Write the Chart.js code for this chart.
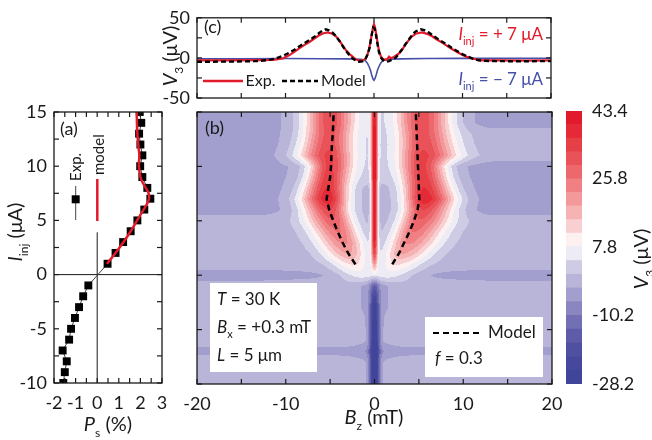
<!DOCTYPE html>
<html><head><meta charset="utf-8">
<script src="https://cdn.jsdelivr.net/npm/chart.js@4.4.0/dist/chart.umd.min.js"></script>
<style>
html,body{margin:0;padding:0;background:#fff;}
#wrap{position:relative;width:652px;height:440px;overflow:hidden;background:#fff;}
#wrap canvas{position:absolute;left:0;top:0;}
</style></head><body>
<div id="wrap">
<canvas id="cb" width="652" height="440" style="width:652px;height:440px"></canvas>
<canvas id="ca" width="652" height="440" style="width:652px;height:440px"></canvas>
<canvas id="cc" width="652" height="440" style="width:652px;height:440px"></canvas>
<canvas id="cd" width="652" height="440" style="width:652px;height:440px"></canvas>
</div>
<script>
// ---------------- data: panel (a) ----------------
const aExpI  = [-10,-9,-8,-7,-6,-5,-4,-3,-2,-1,1,2,3,4,5,6,7,8,9,10,11,12,13,14,15];
const aExpPs = [-1.57,-1.50,-1.41,-1.60,-1.30,-1.21,-1.03,-0.84,-0.65,-0.41,0.48,0.85,1.20,1.55,1.86,2.18,2.46,2.32,2.09,1.99,2.09,2.00,1.94,2.04,1.97];
const aModelI  = [1,2,3,4,5,6,6.5,7,7.5,8,8.5,9,10,11,12,13,14,15];
const aModelPs = [0.45,0.85,1.22,1.55,1.85,2.15,2.30,2.40,2.38,2.25,2.10,2.00,1.93,1.95,1.90,1.86,1.84,1.83];
const aTicksX = [-2,-1,0,1,2,3];
const aTicksY = [-10,-5,0,5,10,15];

// ---------------- data: panel (b) map, one entry per current row ----------------
const mapRowsI     = [-10,-9,-8,-7,-6,-5,-4,-3,-2,-1,0,1,2,3,4,5,6,7,8,9,10,11,12,13,14,15];
const mapSideAmp   = [0,0,0,0,0,0,0,0,0,0, 9,13,20,24,27,30,34,41,38,36,35,35,33,32,33,33];
const mapSidePosL  = [0,0,0,0,0,0,0,0,0,0, 1.6,2.3,2.9,3.4,4.0,4.6,5.1,5.3,5.3,5.2,5.1,5.2,5.2,5.1,5.0,5.0];
const mapSidePosR  = [0,0,0,0,0,0,0,0,0,0, 1.6,2.4,3.1,3.8,4.4,5.0,5.5,5.7,5.6,5.5,5.4,5.5,5.5,5.4,5.3,5.3];
const mapSideWin   = [1,1,1,1,1,1,1,1,1,1, 1.4,1.3,1.4,1.5,1.5,1.5,1.5,1.55,1.6,1.7,1.8,1.9,1.9,1.9,1.9,1.9];
const mapSideWout  = [1,1,1,1,1,1,1,1,1,1, 1.8,1.8,2.0,2.1,2.1,2.1,2.0,2.0,1.8,1.6,1.5,2.3,2.1,2.0,2.0,2.0];
const mapCenterAmp = [-28,-28,-28,-28,-27,-27,-25,-22,-17,-10, 0,16,30,38,42,42,42,42,42,42,42,42,42,41,40,40];
const mapCenterW   = [0.35,0.35,0.35,0.35,0.35,0.35,0.35,0.35,0.35,0.35, 0.25,0.25,0.25,0.25,0.25,0.25,0.25,0.25,0.25,0.25,0.25,0.25,0.25,0.25,0.25,0.25];
const mapHaloAmp   = [-3,-3,-3,-3,-3,-3,-3,-4,-4,-4, 0,0,0,0,0,0,0,0,0,3,3,3,3,3,3,3];
const mapHaloW     = [0.8,0.8,0.8,1.5,0.8,0.8,0.9,1.2,1.2,1.2, 1,1,1,1,1,1,1,1,1,1.5,1.5,1.5,1.5,1.5,1.5,1.5];
const mapBgLeft    = [-1.2,-1.2,-1.2,-4,-1.2,-1.2,-1.2,-1.2,-1.2,-1.2, -4.8, -1.2,-1.2,-1.2,-1.2,-1.2, -4.8,-4.8,-4.8,-4.8,-4.8,-4.8,-4.8,-4.8,-4.8,-4.8];
const mapBgCenter  = [-1.2,-1.2,-1.2,-4,-1.2,-1.2,-1.2,-1.2,-1.2,-1.2, -3.5, -1.2,-1.2,-1.2,-1.2,-1.2,-1.2,-1.2,-1.2,-1.2,-1.2,-1.2,-1.2,-1.2,-1.2,-1.2];
const mapBgRight   = [-1.2,-1.2,-1.2,-4,-1.2,-1.2,-1.2,-1.2,-1.2,-1.2, -4.8, -1.2,-1.2,-1.2,-1.2,-1.2, -4.8,-4.8,-4.8,-4.8,-4.8, -1.2,-1.2,-1.2, -4.8,-4.8];
// dashed model peak positions
const bModelLeft  = [[-2.15,1],[-2.95,2],[-3.6,3],[-4.15,4],[-4.65,5],[-5.1,6],[-5.4,7],[-5.2,8],[-5.0,9],[-4.9,10],[-4.85,11],[-4.8,12],[-4.7,13],[-4.65,14],[-4.6,15]];
const bModelRight = [[2.0,1],[2.75,2],[3.35,3],[3.95,4],[4.45,5],[4.85,6],[5.05,7],[5.0,8],[4.95,9],[4.9,10],[4.85,11],[4.8,12],[4.75,13],[4.7,14],[4.65,15]];
const bTicksX = [-20,-10,0,10,20];

// ---------------- data: panel (c) ----------------
const cExpPlus = [[-20,-3.2],[-16,-3.0],[-13,-2.8],[-11.4,-2.6],[-10.3,-0.8],[-9.6,3.2],[-9.0,7.5],[-8.45,11.9],[-7.9,16],[-7.3,19.8],[-6.7,24.5],[-6.2,28.2],[-5.7,30.8],[-5.26,31.7],[-4.8,30.5],[-4.3,27],[-3.9,21.5],[-3.57,15.9],[-3.2,10],[-2.8,5.2],[-2.4,1.2],[-2.1,-1.6],[-1.8,-3.0],[-1.5,-3.6],[-1.2,-2.8],[-0.94,-0.8],[-0.75,3.5],[-0.56,11],[-0.4,20],[-0.26,29],[-0.12,38],[0,42],[0.12,38],[0.26,29],[0.4,19],[0.56,9.1],[0.75,2.5],[0.94,-0.8],[1.2,-2.2],[1.5,-1.6],[1.7,1.5],[1.9,-0.5],[2.25,1.2],[2.8,5.2],[3.2,10.5],[3.57,17],[3.95,22.5],[4.3,27],[4.8,30.5],[5.44,31.7],[6.0,30],[6.57,27],[7.1,23],[7.7,19],[8.25,15],[8.8,11],[9.4,7.3],[9.95,4],[10.5,1.3],[11.1,-0.8],[12.2,-3],[14,-3.2],[17,-3.3],[20,-3.2]];
const cModelPlus = [[-20,-4.8],[-16,-4.6],[-13.3,-4],[-12,-2.8],[-11.1,-0.8],[-10.3,2.5],[-9.6,6.3],[-9,10.2],[-8.45,14.3],[-7.9,18.2],[-7.3,22.2],[-6.7,26.6],[-6.2,31],[-5.8,34],[-5.45,35.7],[-5.1,34.5],[-4.7,31.7],[-4.3,27],[-3.9,21],[-3.55,15],[-3.2,9.1],[-2.8,3.8],[-2.4,-0.8],[-2.05,-3.4],[-1.7,-4.8],[-1.3,-4.4],[-0.94,-0.8],[-0.7,5],[-0.5,12.5],[-0.38,21],[-0.2,32],[-0.08,38],[0.05,37],[0.19,31],[0.35,20],[0.56,7.1],[0.8,0],[1.13,-4],[1.4,-4.8],[1.7,-4],[2.05,-2],[2.44,0],[2.8,5],[3.2,11],[3.55,17],[3.94,23],[4.3,28.5],[4.7,33],[5.26,35.7],[5.7,34.5],[6.2,31.7],[6.7,27.5],[7.3,23],[7.9,19],[8.45,15],[9.0,11],[9.6,7.1],[10.1,4],[10.7,1.2],[11.2,-1.2],[11.8,-3],[13,-3.9],[16,-4.2],[20,-4]];
const cExpMinus = [[-20,-1.0],[-15,-1.2],[-10,-0.8],[-6,-1.0],[-3,-1.2],[-1.5,-1.6],[-1.1,-2.6],[-0.94,-4],[-0.75,-6.5],[-0.56,-10.7],[-0.4,-15.5],[-0.26,-21.4],[-0.12,-26],[0,-27.8],[0.12,-25.5],[0.26,-20.6],[0.4,-15],[0.56,-10.7],[0.75,-6.5],[0.94,-4],[1.2,-2.5],[1.7,-1.6],[3,-1.2],[6,-0.8],[10,-0.6],[15,-0.6],[20,-0.5]];
const cTicksY = [-50,0,50];

// ---------------- colour bar ----------------
const cbLevels = [-28.2,-24.6,-21.0,-17.4,-13.8,-10.2,-6.6,-3.0,0.6,4.2,7.8,11.36,14.92,18.48,22.04,25.6,29.16,32.72,36.28,39.84,43.4];
const cbTicks = [-28.2,-10.2,7.8,25.8,43.4];
const cbColors = ['#3f4598','#45489c','#5050a0','#5f5ba8','#736fb4','#8a86c0','#a29ecd','#b8b5d8','#cecce4','#edebf4','#fdf0f0','#f9d0d1','#f6b3b4','#f3999b','#f08084','#ec686d','#e95258','#e63f46','#e42a36','#e11b2c'];

// ---------------- style ----------------
const FONT = 'Lato, "Open Sans", sans-serif';
const INK = '#1a1a1a';
const RED = '#e31a2b';
const BLUE = '#4650a8';

function drawRich(ctx, parts, x, y, o) {
  o = o || {};
  const size = o.size || 17;
  ctx.save();
  ctx.translate(x, y);
  if (o.rot) ctx.rotate(o.rot);
  const fnt = p => (p.it ? 'italic ' : '') + (p.sub ? Math.round(size * 0.62) : size) + 'px ' + FONT;
  let w = 0;
  parts.forEach(p => { ctx.font = fnt(p); p._w = ctx.measureText(p.t).width; w += p._w; });
  let cx = o.align === 'right' ? -w : (o.align === 'center' ? -w / 2 : 0);
  ctx.fillStyle = o.color || INK;
  ctx.textBaseline = 'middle';
  ctx.textAlign = 'left';
  parts.forEach(p => { ctx.font = fnt(p); ctx.fillText(p.t, cx, p.sub ? size * 0.4 : 0); cx += p._w; });
  ctx.restore();
}
function seg(ctx, x1, y1, x2, y2) { ctx.beginPath(); ctx.moveTo(x1, y1); ctx.lineTo(x2, y2); ctx.stroke(); }

const framePlugin = {
  id: 'frame',
  afterDatasetsDraw(chart, args, o) {
    const {ctx, chartArea: a, scales: {x, y}} = chart;
    ctx.save();
    ctx.strokeStyle = INK; ctx.lineWidth = 1.3; ctx.setLineDash([]);
    ctx.strokeRect(a.left, a.top, a.right - a.left, a.bottom - a.top);
    ctx.lineWidth = 1.2;
    const L = 5;
    for (let v = x.min; v <= x.max + 1e-9; v += o.xStep) {
      const p = x.getPixelForValue(v);
      seg(ctx, p, a.bottom, p, a.bottom - L); seg(ctx, p, a.top, p, a.top + L);
    }
    for (let v = y.min; v <= y.max + 1e-9; v += o.yStep) {
      const p = y.getPixelForValue(v);
      seg(ctx, a.left, p, a.left + L, p); seg(ctx, a.right, p, a.right - L, p);
    }
    ctx.restore();
  }
};

function tickFont() { return {family: FONT, size: 18}; }
function axis(min, max, ticks, fit, extra) {
  const s = {
    type: 'linear', min: min, max: max,
    afterBuildTicks: sc => { sc.ticks = ticks.map(v => ({value: v})); },
    ticks: {font: tickFont(), color: INK, callback: v => String(v), autoSkip: false, maxRotation: 0, padding: 8},
    grid: {display: false, drawTicks: false},
    border: {display: false},
    afterFit: fit
  };
  if (extra) { if (extra.position) s.position = extra.position; if (extra.ticks) Object.assign(s.ticks, extra.ticks); }
  return s;
}
const common = {responsive: false, animation: false, devicePixelRatio: 1, events: []};

// ---------------- panel (a) ----------------
const aPlugin = {
  id: 'aExtra',
  beforeDatasetsDraw(chart) {
    const {ctx, chartArea: a, scales: {x, y}} = chart;
    ctx.save(); ctx.strokeStyle = INK; ctx.lineWidth = 1;
    const y0 = y.getPixelForValue(0), x0 = x.getPixelForValue(0);
    seg(ctx, a.left, y0, a.right, y0);
    seg(ctx, x0, a.bottom, x0, y.getPixelForValue(3.9));
    ctx.restore();
  },
  afterDraw(chart) {
    const ctx = chart.ctx;
    drawRich(ctx, [{t: '(a)'}], 60, 129.5, {size: 18});
    ctx.save();
    ctx.strokeStyle = '#444'; ctx.lineWidth = 1; seg(ctx, 75.7, 186, 75.7, 220);
    ctx.fillStyle = '#000'; ctx.fillRect(71.7, 195.3, 8, 8);
    ctx.strokeStyle = RED; ctx.lineWidth = 2.5; seg(ctx, 97.3, 179, 97.3, 221);
    ctx.restore();
    drawRich(ctx, [{t: 'Exp.'}], 76.5, 181, {size: 15, rot: -Math.PI / 2});
    drawRich(ctx, [{t: 'model'}], 99.5, 175, {size: 15, rot: -Math.PI / 2});
    drawRich(ctx, [{t: 'I', it: true}, {t: 'inj', sub: true}, {t: ' (μA)'}], 16, 232, {size: 20, rot: -Math.PI / 2, align: 'center'});
    drawRich(ctx, [{t: 'P', it: true}, {t: 's', sub: true}, {t: ' (%)'}], 108, 425, {size: 20, align: 'center'});
  }
};
new Chart(document.getElementById('ca'), {
  type: 'scatter',
  data: {datasets: [
    {data: aModelI.map((v, i) => ({x: aModelPs[i], y: v})), showLine: true, borderColor: RED, borderWidth: 2.5, pointRadius: 0, tension: 0.3},
    {data: aExpI.map((v, i) => ({x: aExpPs[i], y: v})), showLine: true, borderColor: '#444', borderWidth: 1,
     pointStyle: 'rect', pointRadius: 5.6, pointBackgroundColor: '#000', pointBorderColor: '#000', pointBorderWidth: 0}
  ]},
  options: Object.assign({}, common, {
    layout: {padding: {left: 0, right: 490, top: 112, bottom: 0}},
    scales: {
      x: axis(-2, 3, aTicksX, s => { s.height = 57; }, {ticks: {padding: 9}}),
      y: axis(-10, 15, aTicksY, s => { s.width = 54; }, {ticks: {padding: 7}})
    },
    plugins: {legend: {display: false}, tooltip: {enabled: false}, frame: {xStep: 0.5, yStep: 2.5}}
  }),
  plugins: [aPlugin, framePlugin]
});

// ---------------- panel (b) ----------------
function rowValue(r, B) {
  const ab = Math.abs(B);
  const fr = Math.min(Math.max((ab - 5) / 8, 0), 1);
  const side = B < 0 ? mapBgLeft[r] : mapBgRight[r];
  let v = mapBgCenter[r] + (side - mapBgCenter[r]) * fr;
  v += mapCenterAmp[r] * Math.exp(-B * B / (2 * mapCenterW[r] * mapCenterW[r]));
  v += mapHaloAmp[r] * Math.exp(-B * B / (2 * mapHaloW[r] * mapHaloW[r]));
  const A = mapSideAmp[r];
  if (A) {
    let d = B + mapSidePosL[r];
    let s = d < 0 ? mapSideWout[r] : mapSideWin[r];
    v += A * Math.exp(-d * d / (2 * s * s));
    d = B - mapSidePosR[r];
    s = d > 0 ? mapSideWout[r] + 0.3 : mapSideWin[r];
    v += A * Math.exp(-d * d / (2 * s * s));
  }
  return v;
}
const cbRGB = cbColors.map(h => [parseInt(h.slice(1, 3), 16), parseInt(h.slice(3, 5), 16), parseInt(h.slice(5, 7), 16)]);
function bandOf(v) {
  for (let k = 1; k < cbLevels.length - 1; k++) if (v < cbLevels[k]) return k - 1;
  return cbLevels.length - 2;
}
const heatPlugin = {
  id: 'heat',
  beforeDatasetsDraw(chart) {
    const {ctx, chartArea: a, scales: {x, y}} = chart;
    const W = Math.round(a.right - a.left), H = Math.round(a.bottom - a.top);
    const off = document.createElement('canvas'); off.width = W; off.height = H;
    const octx = off.getContext('2d');
    const img = octx.createImageData(W, H);
    const prof = mapRowsI.map((I, r) => {
      const arr = new Float32Array(W);
      for (let i = 0; i < W; i++) arr[i] = rowValue(r, x.getValueForPixel(a.left + i + 0.5));
      return arr;
    });
    const n = mapRowsI.length;
    for (let j = 0; j < H; j++) {
      let I = y.getValueForPixel(a.top + j + 0.5);
      I = Math.min(Math.max(I, mapRowsI[0]), mapRowsI[n - 1]);
      let r = 0; while (r < n - 2 && I > mapRowsI[r + 1]) r++;
      const t = (I - mapRowsI[r]) / (mapRowsI[r + 1] - mapRowsI[r]);
      const p0 = prof[r], p1 = prof[r + 1];
      for (let i = 0; i < W; i++) {
        const v = p0[i] * (1 - t) + p1[i] * t;
        const c = cbRGB[bandOf(v)];
        const o = (j * W + i) * 4;
        img.data[o] = c[0]; img.data[o + 1] = c[1]; img.data[o + 2] = c[2]; img.data[o + 3] = 255;
      }
    }
    octx.putImageData(img, 0, 0);
    ctx.drawImage(off, a.left, a.top);
  },
  afterDraw(chart) {
    const ctx = chart.ctx;
    drawRich(ctx, [{t: '(b)'}], 205, 128.5, {size: 18});
    ctx.save();
    ctx.fillStyle = '#fff';
    ctx.fillRect(210, 283, 107, 89);
    ctx.fillRect(425, 317, 118, 60);
    ctx.strokeStyle = '#000'; ctx.lineWidth = 2.2; ctx.setLineDash([6, 4]);
    seg(ctx, 433, 333, 479, 333);
    ctx.restore();
    drawRich(ctx, [{t: 'T', it: true}, {t: ' = 30 K'}], 217, 300, {size: 17});
    drawRich(ctx, [{t: 'B', it: true}, {t: 'x', sub: true}, {t: ' = +0.3 mT'}], 217, 328, {size: 17});
    drawRich(ctx, [{t: 'L', it: true}, {t: ' = 5 μm'}], 217, 356, {size: 17});
    drawRich(ctx, [{t: 'Model'}], 488, 333, {size: 17});
    drawRich(ctx, [{t: 'f', it: true}, {t: ' = 0.3'}], 435, 359, {size: 17});
    drawRich(ctx, [{t: 'B', it: true}, {t: 'z', sub: true}, {t: ' (mT)'}], 374, 418, {size: 20, align: 'center'});
  }
};
new Chart(document.getElementById('cb'), {
  type: 'scatter',
  data: {datasets: [
    {data: bModelLeft.map(p => ({x: p[0], y: p[1]})), showLine: true, borderColor: '#000', borderWidth: 2.5, borderDash: [6, 4], pointRadius: 0},
    {data: bModelRight.map(p => ({x: p[0], y: p[1]})), showLine: true, borderColor: '#000', borderWidth: 2.5, borderDash: [6, 4], pointRadius: 0}
  ]},
  options: Object.assign({}, common, {
    layout: {padding: {left: 0, right: 100, top: 112, bottom: 0}},
    scales: {
      x: axis(-20, 20, bTicksX, s => { s.height = 56; }, {ticks: {padding: 9}}),
      y: axis(-10, 15, aTicksY, s => { s.width = 197; }, {ticks: {display: false}})
    },
    plugins: {legend: {display: false}, tooltip: {enabled: false}, frame: {xStep: 5, yStep: 5}}
  }),
  plugins: [heatPlugin, framePlugin]
});

// ---------------- panel (c) ----------------
const cPlugin = {
  id: 'cExtra',
  afterDraw(chart) {
    const ctx = chart.ctx;
    drawRich(ctx, [{t: '(c)'}], 204, 27.5, {size: 18});
    drawRich(ctx, [{t: 'I', it: true}, {t: 'inj', sub: true}, {t: ' = + 7 μA'}], 543, 35, {size: 17, align: 'right', color: RED});
    drawRich(ctx, [{t: 'I', it: true}, {t: 'inj', sub: true}, {t: ' = − 7 μA'}], 543, 80, {size: 17, align: 'right', color: BLUE});
    ctx.save();
    ctx.strokeStyle = RED; ctx.lineWidth = 2.5; seg(ctx, 203, 81, 243, 81);
    ctx.strokeStyle = '#000'; ctx.setLineDash([5, 3]); seg(ctx, 282, 81, 318, 81);
    ctx.restore();
    drawRich(ctx, [{t: 'Exp.'}], 245.5, 81, {size: 16});
    drawRich(ctx, [{t: 'Model'}], 321, 81, {size: 16});
    drawRich(ctx, [{t: 'V', it: true}, {t: '3', sub: true}, {t: ' (μV)'}], 171, 56, {size: 20, rot: -Math.PI / 2, align: 'center'});
  }
};
new Chart(document.getElementById('cc'), {
  type: 'scatter',
  data: {datasets: [
    {data: cModelPlus.map(p => ({x: p[0], y: p[1]})), showLine: true, borderColor: '#000', borderWidth: 2.4, borderDash: [5, 3], pointRadius: 0},
    {data: cExpPlus.map(p => ({x: p[0], y: p[1]})), showLine: true, borderColor: RED, borderWidth: 2.2, pointRadius: 0},
    {data: cExpMinus.map(p => ({x: p[0], y: p[1]})), showLine: true, borderColor: BLUE, borderWidth: 1.6, pointRadius: 0}
  ]},
  options: Object.assign({}, common, {
    layout: {padding: {left: 0, right: 101, top: 14, bottom: 0}},
    scales: {
      x: axis(-20, 20, bTicksX, s => { s.height = 342; }, {ticks: {display: false}}),
      y: axis(-50, 50, cTicksY, s => { s.width = 197; }, {ticks: {padding: 7}})
    },
    plugins: {legend: {display: false}, tooltip: {enabled: false}, frame: {xStep: 5, yStep: 25}}
  }),
  plugins: [cPlugin, framePlugin]
});

// ---------------- colour bar ----------------
const dPlugin = {
  id: 'dExtra',
  afterDraw(chart) {
    drawRich(chart.ctx, [{t: 'V', it: true}, {t: '3', sub: true}, {t: ' (μV)'}], 642, 259, {size: 20, rot: -Math.PI / 2, align: 'center'});
  }
};
new Chart(document.getElementById('cd'), {
  type: 'bar',
  data: {labels: [''], datasets: cbColors.map((c, k) => ({
    data: [[cbLevels[k], cbLevels[k + 1]]], backgroundColor: c, borderWidth: 0,
    barPercentage: 1, categoryPercentage: 1, grouped: false
  }))},
  options: Object.assign({}, common, {
    layout: {padding: {left: 566, right: 0, top: 111, bottom: 56}},
    scales: {
      x: {display: false},
      y: axis(-28.2, 43.4, cbTicks, s => { s.width = 70; }, {position: 'right', ticks: {padding: 10}})
    },
    plugins: {legend: {display: false}, tooltip: {enabled: false}}
  }),
  plugins: [dPlugin]
});
</script>
</body></html>
